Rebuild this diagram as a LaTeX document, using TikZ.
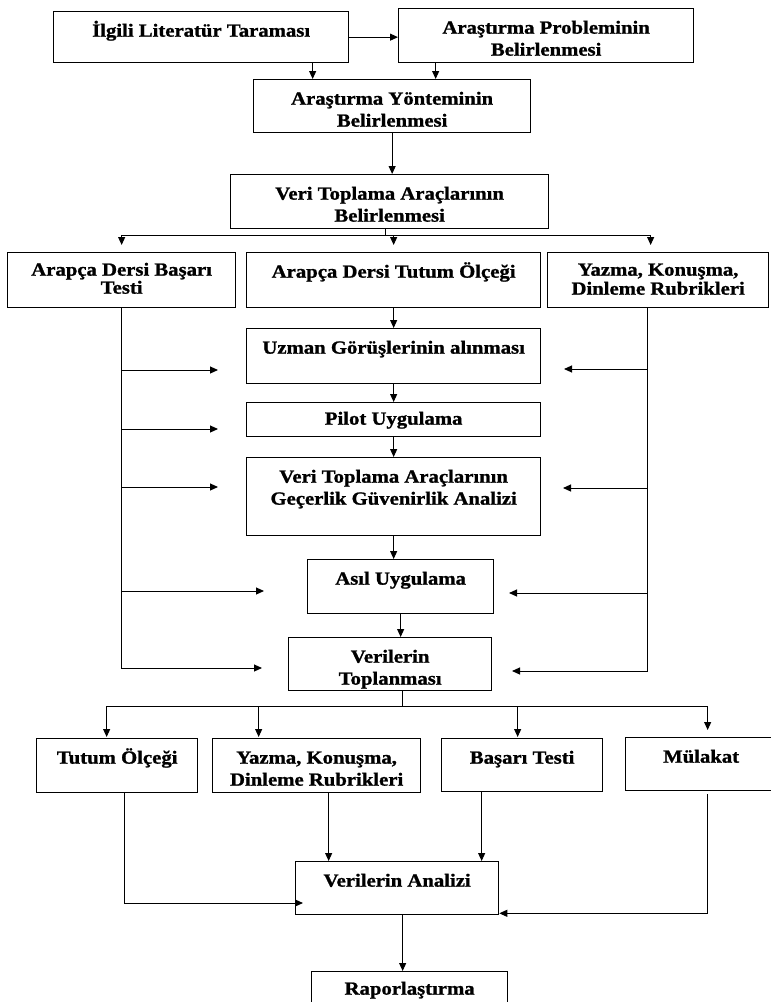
\documentclass[tikz,border=0pt]{standalone}
\usepackage{fontspec}
\setmainfont{Liberation Serif}[FakeStretch=1.12, BoldFeatures={FakeBold=1.2}]
\usetikzlibrary{arrows.meta}
\newcommand{\cell}[4][25pt]{\parbox[c][#3][t]{#2}{\centering\rule{0pt}{#1}#4}}
\tikzset{
  box/.style={rectangle, draw=black, line width=1.3pt, inner sep=0pt, anchor=north west},
  link/.style={line width=1pt}
}

\begin{document}
\begin{tikzpicture}[x=1pt, y=-1pt, link, font=\fontsize{18.5}{22}\selectfont\bfseries, >={Triangle[length=8pt,width=7pt]}]
    \useasboundingbox (0,0) rectangle (771,1002);
    \clip (0,0) rectangle (771,1002);

    % Planning
    \node(101) at (53,11) [box] {\cell{295pt}{51pt}{İlgili Literatür Taraması}};
    \node(102) at (398,8) [box] {\cell{295pt}{54pt}{Araştırma Probleminin\\Belirlenmesi}};
    \node(103) at (253,79) [box] {\cell{277pt}{53pt}{Araştırma Yönteminin\\Belirlenmesi}};
    \node(104) at (230,174) [box] {\cell{318pt}{54pt}{Veri Toplama Araçlarının\\Belirlenmesi}};
    \draw [->] (101.east) -- (101.east -| 102.west);
    \coordinate (u1) at ([xshift=111.5pt]101.south);
    \coordinate (u2) at ([xshift=-110.5pt]102.south);
    \draw [->] (u1) -- (u1 |- 103.north);
    \draw [->] (u2) -- (u2 |- 103.north);
    \draw [->] (103.south) -- (103.south |- 104.north);

    % Instruments
    \node(201) at (7,252) [box] {\cell[23pt]{228pt}{55pt}{Arapça Dersi Başarı\\[-4pt]Testi}};
    \node(202) at (246,252) [box] {\cell{294pt}{55pt}{Arapça Dersi Tutum Ölçeği}};
    \node(203) at (547,252) [box] {\cell[23pt]{221pt}{55pt}{Yazma, Konuşma,\\[-3pt]Dinleme Rubrikleri}};
    \coordinate (s1) at (385,235);
    \draw (104.south -| s1) -- (s1);
    \draw [->] (s1) -| ([yshift=7pt]201.north);
    \draw [->] (s1) -| ([xshift=-7.5pt,yshift=7pt]203.north);
    \draw [->] (s1 -| 202.north) -- ([yshift=7pt]202.north);

    % Preparation steps
    \node(211) at (246,328) [box] {\cell{294pt}{55pt}{Uzman Görüşlerinin alınması}};
    \node(212) at (246,402) [box] {\cell[22pt]{294pt}{34pt}{Pilot Uygulama}};
    \node(213) at (246,457) [box] {\cell{294pt}{78pt}{Veri Toplama Araçlarının\\Geçerlik Güvenirlik Analizi}};
    \node(214) at (307,559) [box] {\cell{186pt}{54pt}{Asıl Uygulama}};
    \node(215) at (288,637) [box] {\cell{203pt}{53pt}{Verilerin\\Toplanması}};
    \draw [->] (202.south) -- (202.south |- 211.north);
    \draw [->] (211.south) -- (211.south |- 212.north);
    \draw [->] (212.south) -- (212.south |- 213.north);
    \draw [->] (213.south) -- (213.south |- 214.north);
    \draw [->] (214.south) -- (214.south |- 215.north);

    % Side feeds
    \coordinate (l1) at (218,370);
    \coordinate (l2) at (218,429);
    \coordinate (l3) at (218,487);
    \coordinate (l4) at (264,591);
    \coordinate (l5) at (262,668);
    \draw [->] (201.south) |- (l5);
    \foreach \c in {l1,l2,l3,l4}
        \draw [->] (201.south |- \c) -- (\c);
    \coordinate (r1) at (564,369);
    \coordinate (r2) at (563,488);
    \coordinate (r3) at (509,593);
    \coordinate (r4) at (512,671);
    \coordinate (r0) at ([xshift=-10.5pt]203.south);
    \draw [->] (r0) |- (r4);
    \foreach \c in {r1,r2,r3}
        \draw [->] (r0 |- \c) -- (\c);

    % Data sets
    \node(301) at (36,738) [box] {\cell{161pt}{54pt}{Tutum Ölçeği}};
    \node(302) at (212,738) [box] {\cell{208pt}{54pt}{Yazma, Konuşma,\\Dinleme Rubrikleri}};
    \node(303) at (441,738) [box] {\cell{161pt}{53pt}{Başarı Testi}};
    \node(304) at (625,737) [box] {\cell{151pt}{53pt}{Mülakat}};
    \coordinate (s2) at (402,706);
    \draw (215.south -| s2) -- (s2);
    \draw [->] (s2) -| ([xshift=-10.5pt,yshift=1pt]301.north);
    \draw [->] (s2) -| ([xshift=6.5pt,yshift=7pt]304.north);
    \coordinate (t2) at ([xshift=-58pt,yshift=1pt]302.north);
    \coordinate (t3) at ([xshift=-4.5pt,yshift=1pt]303.north);
    \draw [->] (t2 |- s2) -- (t2);
    \draw [->] (t3 |- s2) -- (t3);

    % Analysis and report
    \node(311) at (295,861) [box] {\cell{203pt}{53pt}{Verilerin Analizi}};
    \node(321) at (311,971) [box] {\cell[23pt]{196pt}{45pt}{Raporlaştırma}};
    \coordinate (a1) at (303,903);
    \draw [->] ([xshift=7.5pt]301.south) |- (a1);
    \coordinate (t5) at ([xshift=12pt]302.south);
    \coordinate (t6) at ([xshift=-40.5pt]303.south);
    \draw [->] (t5) -- (t5 |- 311.north);
    \draw [->] (t6) -- (t6 |- 311.north);
    \draw [->] ([xshift=6.5pt,yshift=-3pt]304.south) |- ([yshift=2pt]311.south east);
    \coordinate (t7) at ([xshift=5.5pt]311.south);
    \draw [->] (t7) -- (t7 |- 321.north);
\end{tikzpicture}
\end{document}
